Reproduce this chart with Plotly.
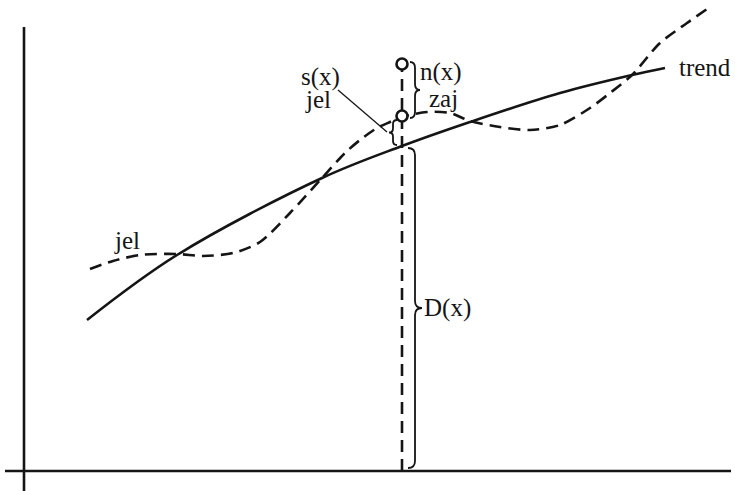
import plotly.graph_objects as go

# ---- data (abstract units; y up, origin at axes crossing) ----
trend_x = [63, 153, 298, 378, 446, 536, 608, 641]
trend_y = [151, 216, 293, 325, 349, 378, 396, 403]

signal_x = [66, 89, 116, 153, 179, 209, 236, 266, 298, 321, 336, 353, 366, 378,
            403, 426, 446, 476, 506, 536, 566, 586, 608, 636, 663, 683]
signal_y = [202, 210, 216, 217, 215, 218, 229, 258, 293, 318, 331, 343, 349, 354,
            359, 358, 350, 344, 341, 346, 363, 378, 396, 428, 448, 462]

x0 = 378            # sampled position
observed_y = 407    # trend + signal + noise  (upper circle)
signal_pt_y = 355   # trend + signal (lower circle)
trend_pt_y = 325    # trend value at x0

x_axis_extent = [-19, 707]
y_axis_extent = [-20, 444]

INK = "#151515"
FONT = dict(family="Liberation Serif, Times New Roman, serif", size=25, color=INK)

fig = go.Figure()

fig.add_trace(go.Scatter(x=trend_x, y=trend_y, mode="lines",
                         line=dict(color=INK, width=2.6, shape="spline", smoothing=1.0),
                         hoverinfo="skip", showlegend=False))
fig.add_trace(go.Scatter(x=signal_x, y=signal_y, mode="lines",
                         line=dict(color=INK, width=2.6, dash="12px,7px", shape="spline", smoothing=0.8),
                         hoverinfo="skip", showlegend=False))
# vertical sample line
fig.add_trace(go.Scatter(x=[x0, x0], y=[0, observed_y], mode="lines",
                         line=dict(color=INK, width=2.6, dash="12px,7px"),
                         hoverinfo="skip", showlegend=False))
# circles
fig.add_trace(go.Scatter(x=[x0, x0], y=[observed_y, signal_pt_y], mode="markers",
                         marker=dict(symbol="circle", size=11, color="white",
                                     line=dict(color=INK, width=2.6)),
                         hoverinfo="skip", showlegend=False))


def brace(y_top, y_bot, x_in, w, side=1, r=6):
    """curly brace path; side=1 tip to the right, -1 tip to the left"""
    xm = x_in + side * w * 0.5
    xt = x_in + side * w
    ym = (y_top + y_bot) / 2
    rr = min(r, abs(y_top - y_bot) / 4)
    return (f"M {x_in},{y_top} Q {xm},{y_top} {xm},{y_top - rr} "
            f"L {xm},{ym + rr} Q {xm},{ym} {xt},{ym} "
            f"Q {xm},{ym} {xm},{ym - rr} "
            f"L {xm},{y_bot + rr} Q {xm},{y_bot} {x_in},{y_bot}")


shapes = [
    dict(type="line", x0=x_axis_extent[0], x1=x_axis_extent[1], y0=0, y1=0,
         line=dict(color=INK, width=2.6)),
    dict(type="line", x0=0, x1=0, y0=y_axis_extent[0], y1=y_axis_extent[1],
         line=dict(color=INK, width=2.6)),
    # n(x) brace
    dict(type="path", path=brace(observed_y + 2, signal_pt_y - 2, x0 + 8, 10, 1),
         line=dict(color=INK, width=1.8)),
    # s(x) brace
    dict(type="path", path=brace(signal_pt_y - 4, trend_pt_y + 1, x0 - 5, 8, -1, r=4),
         line=dict(color=INK, width=1.8)),
    # D(x) brace
    dict(type="path", path=brace(trend_pt_y - 2, 3, x0 + 6, 14, 1, r=7),
         line=dict(color=INK, width=1.8)),
    # leader line from s(x)/jel label
    dict(type="line", x0=314, y0=381, x1=363, y1=339,
         line=dict(color=INK, width=1.3)),
]

annotations = [
    dict(x=653, y=404, text="trend", xanchor="left", yanchor="middle"),
    dict(x=103, y=231, text="jel", xanchor="center", yanchor="middle"),
    dict(x=296, y=394, text="s(x)", xanchor="center", yanchor="middle"),
    dict(x=294, y=372, text="jel", xanchor="center", yanchor="middle"),
    dict(x=394, y=399, text="n(x)", xanchor="left", yanchor="middle"),
    dict(x=403, y=373, text="zaj", xanchor="left", yanchor="middle"),
    dict(x=398, y=163, text="D(x)", xanchor="left", yanchor="middle"),
]
for a in annotations:
    a.update(showarrow=False, font=FONT, xref="x", yref="y")

fig.update_layout(
    width=735, height=491,
    margin=dict(l=0, r=0, t=0, b=0),
    paper_bgcolor="white", plot_bgcolor="white",
    xaxis=dict(range=[-24, 711], visible=False, fixedrange=True),
    yaxis=dict(range=[-20, 471], visible=False, fixedrange=True),
    shapes=shapes, annotations=annotations, showlegend=False,
)

fig.write_html("out.html", config={"displayModeBar": False},
               post_script="document.body.style.margin='0px';document.body.style.overflow='hidden';")
